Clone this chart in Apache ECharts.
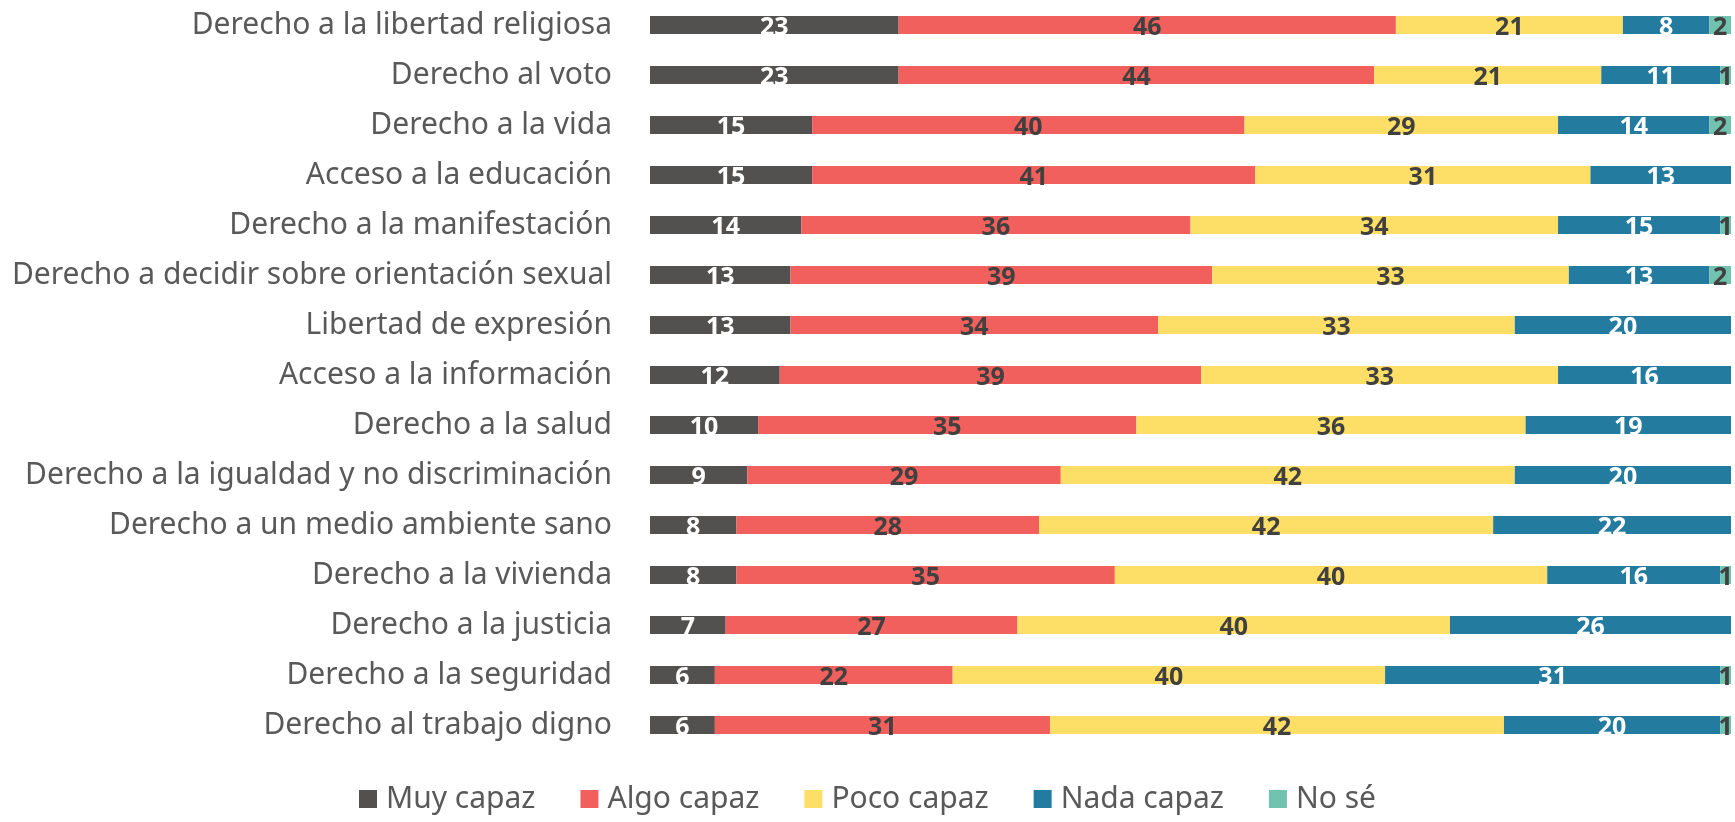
<!DOCTYPE html>
<html>
<head>
<meta charset="utf-8">
<script src="https://cdn.jsdelivr.net/npm/echarts@6/dist/echarts.min.js"></script>
<style>
  html, body { margin: 0; padding: 0; background: #fff; }
  #chart { width: 1735px; height: 822px; }
</style>
</head>
<body>
<div id="chart"></div>
<script>
const categories = [
  'Derecho a la libertad religiosa',
  'Derecho al voto',
  'Derecho a la vida',
  'Acceso a la educación',
  'Derecho a la manifestación',
  'Derecho a decidir sobre orientación sexual',
  'Libertad de expresión',
  'Acceso a la información',
  'Derecho a la salud',
  'Derecho a la igualdad y no discriminación',
  'Derecho a un medio ambiente sano',
  'Derecho a la vivienda',
  'Derecho a la justicia',
  'Derecho a la seguridad',
  'Derecho al trabajo digno'
];
const muyCapaz = [23, 23, 15, 15, 14, 13, 13, 12, 10, 9, 8, 8, 7, 6, 6];
const algoCapaz = [46, 44, 40, 41, 36, 39, 34, 39, 35, 29, 28, 35, 27, 22, 31];
const pocoCapaz = [21, 21, 29, 31, 34, 33, 33, 33, 36, 42, 42, 40, 40, 40, 42];
const nadaCapaz = [8, 11, 14, 13, 15, 13, 20, 16, 19, 20, 22, 16, 26, 31, 20];
const noSe = [2, 1, 2, null, 1, 2, null, null, null, null, null, 1, null, 1, 1];

const seriesDefs = [
  { name: 'Muy capaz', data: muyCapaz, color: '#525150', labelColor: '#ffffff' },
  { name: 'Algo capaz', data: algoCapaz, color: '#F2605D', labelColor: '#404040' },
  { name: 'Poco capaz', data: pocoCapaz, color: '#FDDF68', labelColor: '#404040' },
  { name: 'Nada capaz', data: nadaCapaz, color: '#237B9F', labelColor: '#ffffff' },
  { name: 'No sé', data: noSe, color: '#72C2B0', labelColor: '#404040' }
];

const chart = echarts.init(document.getElementById('chart'));

const option = {
  animation: false,
  textStyle: { fontFamily: 'Noto Sans' },
  grid: {
    left: 650,
    right: 4,
    top: 0,
    height: 750,
    containLabel: false
  },
  legend: {
    top: 784,
    left: 'center',
    icon: 'rect',
    itemWidth: 18,
    itemHeight: 18,
    itemGap: 45,
    padding: 0,
    textStyle: { fontSize: 30, color: '#595959', padding: [0, 0, 0, 4] },
    data: seriesDefs.map(s => s.name)
  },
  xAxis: {
    type: 'value',
    min: 0,
    max: 100,
    show: false
  },
  yAxis: {
    type: 'category',
    inverse: true,
    data: categories,
    axisLine: { show: false },
    axisTick: { show: false },
    axisLabel: {
      fontSize: 30,
      color: '#595959',
      margin: 38
    }
  },
  series: seriesDefs.map(s => ({
    name: s.name,
    type: 'bar',
    stack: 'total',
    barWidth: 18,
    itemStyle: { color: s.color },
    label: {
      show: true,
      position: 'inside',
      offset: [0, 3],
      fontSize: 25,
      fontWeight: 'bold',
      color: s.labelColor
    },
    data: s.data
  }))
};

chart.setOption(option);
</script>
</body>
</html>
